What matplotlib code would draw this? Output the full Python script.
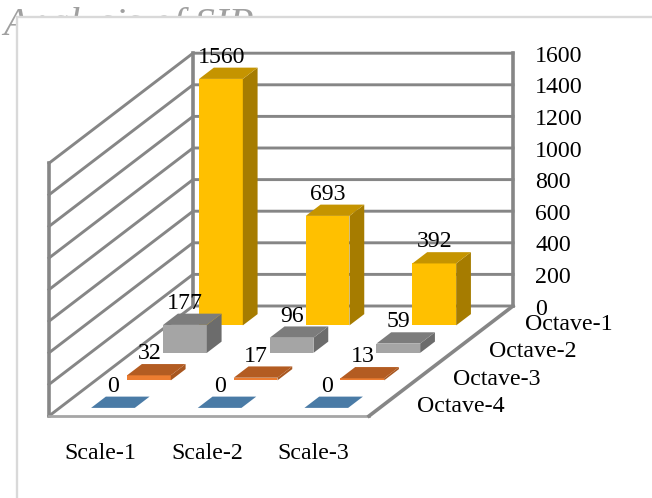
import matplotlib
matplotlib.use("Agg")
import matplotlib.pyplot as plt
from matplotlib.patches import Polygon, Rectangle

# Chart values: one row per octave, ordered from the front row to the back wall
scales = ["Scale-1", "Scale-2", "Scale-3"]
octaves = ["Octave-4", "Octave-3", "Octave-2", "Octave-1"]
octave4 = [0, 0, 0]
octave3 = [32, 17, 13]
octave2 = [177, 96, 59]
octave1 = [1560, 693, 392]
series = [octave4, octave3, octave2, octave1]
value_ticks = [0, 200, 400, 600, 800, 1000, 1200, 1400, 1600]

# Colours per row: front face, top face, side face
palette = [
    ("#4a7ba6", "#4a7ba6", "#3a6285"),
    ("#ed7d31", "#b35c22", "#a85720"),
    ("#a5a5a5", "#7c7c7c", "#6c6c6c"),
    ("#ffc000", "#c59400", "#a67c00"),
]
GRID = "#868686"
TEXT_SIZE = 17.2

plt.rcParams["font.family"] = ["Liberation Serif", "DejaVu Serif"]

W, H = 652, 498
fig = plt.figure(figsize=(W / 100, H / 100), dpi=100)
ax = fig.add_axes([0, 0, 1, 1])
ax.set_xlim(0, W)
ax.set_ylim(H, 0)
ax.axis("off")

# Oblique projection of (scale position, octave depth, value) onto the canvas
X0, Y0 = 49.0, 416.0
UX, DX, DY, VY = 106.67, 36.0, 27.5, 0.158


def project(x, d, v=0.0):
    return (X0 + UX * x + DX * d, Y0 - DY * d - VY * v)


# Heading sits behind the white chart panel, which cuts most of it off
ax.text(3, 35, "Analysis of SIP", fontsize=29.5, style="italic", color="#a0a0a0",
        ha="left", va="baseline", zorder=1)
ax.add_patch(Rectangle((17, 17), W, H, fc="white", ec="#d9d9d9", lw=1.7, zorder=2))

depth_total = len(octaves)
width_total = len(scales)

# Back wall and side wall gridlines
for t in value_ticks:
    bl, br = project(0, depth_total, t), project(width_total, depth_total, t)
    fl = project(0, 0, t)
    ax.plot([fl[0], bl[0], br[0]], [fl[1], bl[1], br[1]], color=GRID, lw=2.1,
            solid_joinstyle="miter", zorder=3)
    ax.text(br[0] + 22, br[1] + 3, str(t), fontsize=TEXT_SIZE, ha="left", va="center", zorder=9)

# Vertical wall edges
for x, d in [(0, 0), (0, depth_total), (width_total, depth_total)]:
    b, t = project(x, d, value_ticks[0]), project(x, d, value_ticks[-1])
    ax.plot([b[0], t[0]], [b[1], t[1]], color=GRID, lw=2.6, zorder=3)

# Floor outline
corners = [project(0, 0), project(width_total, 0), project(width_total, depth_total)]
ax.plot([c[0] for c in corners[:2]], [c[1] for c in corners[:2]], color="#a6a6a6", lw=2.0, zorder=3)
ax.plot([c[0] for c in corners[1:]], [c[1] for c in corners[1:]], color=GRID, lw=2.6, zorder=3)

LO, HI = 0.295, 0.705

# Bars, painted from the back row forward so nearer bars overlap farther ones
for d in reversed(range(depth_total)):
    front, top, side = palette[d]
    for i, v in enumerate(series[d]):
        x0, x1 = i + LO, i + HI
        d0, d1 = d + LO, d + HI
        z = 4 + (depth_total - d)
        ax.add_patch(Polygon([project(x0, d0, 0), project(x1, d0, 0), project(x1, d0, v), project(x0, d0, v)],
                             fc=front, ec="none", zorder=z))
        ax.add_patch(Polygon([project(x1, d0, 0), project(x1, d1, 0), project(x1, d1, v), project(x1, d0, v)],
                             fc=side, ec="none", zorder=z))
        ax.add_patch(Polygon([project(x0, d0, v), project(x1, d0, v), project(x1, d1, v), project(x0, d1, v)],
                             fc=top, ec="none", zorder=z))
        lx, ly = project(i + 0.5, d + 0.5, v)
        ax.text(lx - 7, ly - 16, str(v), fontsize=TEXT_SIZE, ha="center", va="center", zorder=10)

# Category labels along the front edge and octave names along the right edge
for i, name in enumerate(scales):
    lx, _ = project(i + 0.5, 0)
    ax.text(lx - 2, 453, name, fontsize=TEXT_SIZE, ha="center", va="center", zorder=9)
for d, name in enumerate(octaves):
    lx, ly = project(width_total, d + 0.5)
    ax.text(lx + 30, ly + 4.5, name, fontsize=TEXT_SIZE, ha="left", va="center", zorder=9)

fig.savefig("out.png", dpi=100)
